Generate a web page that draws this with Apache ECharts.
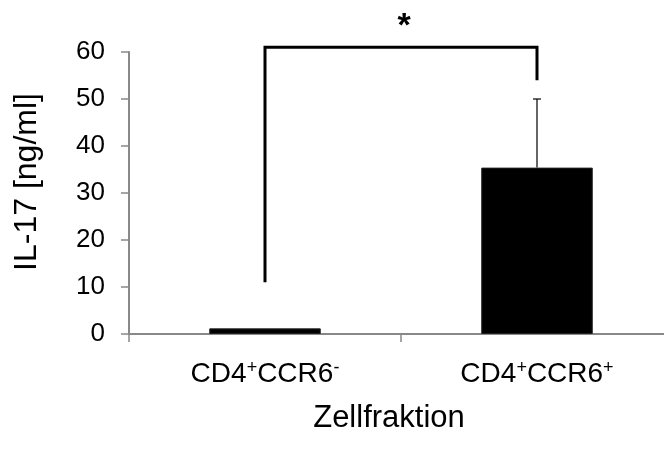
<!DOCTYPE html>
<html>
<head>
<meta charset="utf-8">
<script src="https://cdn.jsdelivr.net/npm/echarts@6/dist/echarts.min.js"></script>
<style>
  html, body { margin: 0; padding: 0; background: #fff; }
  #chart { width: 664px; height: 450px; }
</style>
</head>
<body>
<div id="chart"></div>
<script>
// Cell fractions and mean IL-17 concentration (ng/ml)
const categories = ['CD4+CCR6-', 'CD4+CCR6+'];
const il17Mean = [1.2, 35.4];
const il17Upper = [null, 50];          // upper end of the error bar
const yTicks = [0, 10, 20, 30, 40, 50, 60];

// Significance bracket: left foot, bar height, right foot
const bracketLeftFoot = 11;
const bracketTop = 61;
const bracketRightFoot = 54;
const starLevel = 65.4;
const starText = '*';

const FONT = '"Liberation Sans", Arial, sans-serif';
const AXIS_GREY = '#888888';

// "CD4+CCR6-" -> rich text with raised +/- signs
function richCategory(label) {
  const m = label.match(/^CD4([+-])CCR6([+-])$/);
  if (!m) return label;
  return '{n|CD4}{s|' + m[1] + '}{n|CCR6}{s|' + m[2] + '}';
}

const chart = echarts.init(document.getElementById('chart'), null, { renderer: 'canvas' });

const errorData = il17Upper
  .map((v, i) => (v == null ? null : [i, il17Mean[i], v]))
  .filter(d => d);

chart.setOption({
  animation: false,
  backgroundColor: '#ffffff',
  grid: {
    left: 129, width: 544, top: 52, bottom: 116,
    containLabel: false,
    outerBoundsMode: 'none'
  },
  xAxis: {
    type: 'category',
    data: categories,
    name: 'Zellfraktion',
    nameLocation: 'middle',
    nameGap: 69,
    nameTextStyle: { fontFamily: FONT, fontSize: 31, color: '#000', padding: [0, 24, 0, 0] },
    axisLine: { lineStyle: { color: AXIS_GREY, width: 2 } },
    axisTick: { show: true, alignWithLabel: false, length: 8, lineStyle: { color: AXIS_GREY, width: 1.5 } },
    axisLabel: {
      color: '#000',
      margin: 25,
      formatter: richCategory,
      rich: {
        n: { fontFamily: FONT, fontSize: 28, lineHeight: 30, color: '#000' },
        s: { fontFamily: FONT, fontSize: 18, lineHeight: 30, color: '#000', verticalAlign: 'top' }
      }
    }
  },
  yAxis: {
    type: 'value',
    min: yTicks[0],
    max: yTicks[yTicks.length - 1],
    interval: 10,
    name: 'IL-17 [ng/ml]',
    nameLocation: 'middle',
    nameGap: 86,
    nameRotate: 90,
    nameTextStyle: { fontFamily: FONT, fontSize: 32, color: '#000', padding: [0, 0, 0, 22] },
    axisLine: { show: true, lineStyle: { color: AXIS_GREY, width: 2 } },
    axisTick: { show: true, length: 8, lineStyle: { color: AXIS_GREY, width: 1.5 } },
    splitLine: { show: false },
    axisLabel: { fontFamily: FONT, fontSize: 26, color: '#000', margin: 24 }
  },
  series: [
    {
      type: 'bar',
      data: il17Mean,
      barWidth: '41%',
      itemStyle: { color: '#000000', borderColor: '#222', borderWidth: 1 },
      z: 2
    },
    {
      // error bar: vertical whisker with a cap
      type: 'custom',
      data: errorData,
      z: 3,
      renderItem: function (params, api) {
        const base = api.coord([api.value(0), api.value(1)]);
        const top = api.coord([api.value(0), api.value(2)]);
        const half = 4;
        return {
          type: 'group',
          children: [
            { type: 'line', shape: { x1: base[0], y1: base[1], x2: top[0], y2: top[1] },
              style: { stroke: '#000', lineWidth: 1.2 } },
            { type: 'line', shape: { x1: top[0] - half, y1: top[1], x2: top[0] + half, y2: top[1] },
              style: { stroke: '#000', lineWidth: 1.2 } }
          ]
        };
      }
    },
    {
      // significance bracket with asterisk centred above it
      type: 'custom',
      data: [[0, bracketLeftFoot, 1, bracketRightFoot, bracketTop]],
      clip: false,
      z: 4,
      renderItem: function (params, api) {
        const p0 = api.coord([api.value(0), api.value(1)]);
        const p1 = api.coord([api.value(0), api.value(4)]);
        const p2 = api.coord([api.value(2), api.value(4)]);
        const p3 = api.coord([api.value(2), api.value(3)]);
        const starY = api.coord([api.value(0), starLevel])[1];
        return {
          type: 'group',
          children: [
            { type: 'polyline', shape: { points: [p0, p1, p2, p3] },
              style: { stroke: '#000', lineWidth: 3, fill: null, lineJoin: 'miter' } },
            { type: 'text', x: (p1[0] + p2[0]) / 2 + 3, y: starY,
              style: { text: starText, fontFamily: FONT, fontSize: 34, fontWeight: 'bold',
                       fill: '#000', align: 'center', verticalAlign: 'middle' } }
          ]
        };
      }
    }
  ]
});
</script>
</body>
</html>
